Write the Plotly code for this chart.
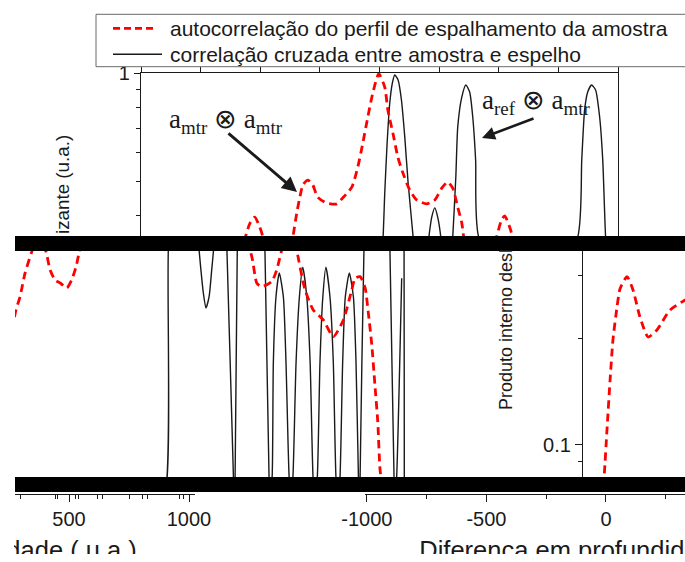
import math
import plotly.graph_objects as go

W, H = 685, 562

# ---------------- data ----------------
# upper window: depth difference (a.u.) vs normalized sliding inner product
top_red_x = [-1344, -1312, -1293, -1273, -1252, -1239, -1210, -1176, -1126, -1113,
             -1097, -1084, -1071, -1050, -1030, -1009, -971, -929, -904, -866,
             -841, -820, -799, -778, -753, -728, -715, -694, -673, -652,
             -623, -594, -552, -518, -489, -464, -443, -422, -405, -397,
             -372, -321, -275, -259, -238, -225, -204, -192, -171]
top_red_y = [0.265, 0.349, 0.382, 0.397, 0.372, 0.349, 0.265, 0.233, 0.301, 0.349,
             0.407, 0.451, 0.488, 0.503, 0.488, 0.451, 0.434, 0.432, 0.449, 0.481,
             0.547, 0.638, 0.754, 0.880, 0.995, 0.914, 0.789, 0.681, 0.583, 0.527,
             0.472, 0.443, 0.432, 0.443, 0.478, 0.497, 0.478, 0.423, 0.382, 0.349,
             0.265, 0.233, 0.301, 0.349, 0.390, 0.400, 0.372, 0.349, 0.265]

top_black_x = [-760, -735, -728, -718, -707, -696, -686, -672, -658, -644,
               -630, -609, -581, -543, -531, -518, -506, -493, -468, -443,
               -430, -422, -405, -388, -372, -359, -347, -334, -120, 81,
               98, 110, 123, 139, 156, 173, 186, 198, 223]
top_black_y = [0.2, 0.349, 0.463, 0.638, 0.825, 0.938, 0.987, 0.956, 0.841, 0.663,
               0.494, 0.349, 0.2, 0.349, 0.397, 0.421, 0.397, 0.349, 0.2, 0.349,
               0.513, 0.707, 0.857, 0.926, 0.885, 0.754, 0.573, 0.349, 0.2, 0.349,
               0.573, 0.789, 0.885, 0.926, 0.897, 0.754, 0.573, 0.349, 0.2]

# lower window
mid_red_x = [-2485, -2469, -2452, -2431, -2403, -2372, -2340, -2326, -2305, -2284,
             -2256, -2236, -2218, -2204, -2180, -1699, -1520, -1482, -1461, -1441,
             -1399, -1378, -1357, -1331, -1305, -1294, -1259, -1225, -1183, -1141,
             -1099, -1064, -1050, -1029, -1008, -995, -980, -967, -955, -946,
             -933, -912, -444, -25, -8, 4, 17, 29, 46, 59,
             88, 113, 142, 176, 213, 268, 331, 351]
mid_red_y = [0.2109, 0.2401, 0.2612, 0.305, 0.350, 0.400, 0.343, 0.311, 0.2916, 0.286,
             0.2769, 0.2916, 0.317, 0.350, 0.400, 0.450, 0.400, 0.339, 0.2855, 0.2792,
             0.2884, 0.311, 0.354, 0.400, 0.395, 0.354, 0.2733, 0.2401, 0.2250, 0.2019,
             0.2250, 0.2733, 0.295, 0.298, 0.2769, 0.2370, 0.1913, 0.1476, 0.1161, 0.0861,
             0.0723, 0.0615, 0.05, 0.0615, 0.0813, 0.1102, 0.1525, 0.1976, 0.2447, 0.276,
             0.298, 0.2733, 0.2295, 0.2015, 0.2109, 0.2401, 0.2562, 0.26]

mid_black_x = [-1908, -1843, -1830, -1803, -1741, -1705, -1702, -1695, -1685, -1674,
               -1661, -1650, -1643, -1640, -1615, -1588, -1586, -1559, -1556, -1552,
               -1543, -1540, -1490, -1429, -1427, -1410, -1406, -1397, -1392, -1381,
               -1367, -1350, -1339, -1326, -1318, -1310, -1297, -1283, -1269, -1252,
               -1238, -1226, -1218, -1208, -1197, -1185, -1172, -1155, -1141, -1130,
               -1121, -1113, -1102, -1091, -1074, -1057, -1046, -1036, -1033, -1029,
               -1013, -1008, -958, -906, -904, -887, -883, -876, -855, None,
               -846, -845, -844, -843]
mid_black_y = [0.0615, 0.0747, 0.378, 0.49, 0.49, 0.378, 0.350, 0.311, 0.268, 0.2432,
               0.2612, 0.311, 0.350, 0.378, 0.49, 0.378, 0.350, 0.0813, 0.070, 0.0813,
               0.350, 0.378, 0.49, 0.378, 0.350, 0.0813, 0.070, 0.0813, 0.1702, 0.2612,
               0.305, 0.2612, 0.1702, 0.0813, 0.070, 0.0813, 0.1702, 0.2612, 0.317, 0.2612,
               0.1702, 0.0813, 0.070, 0.0813, 0.1702, 0.2612, 0.317, 0.2612, 0.1702, 0.0813,
               0.070, 0.0813, 0.1702, 0.2612, 0.305, 0.2612, 0.1702, 0.0813, 0.070, 0.0813,
               0.350, 0.378, 0.49, 0.378, 0.350, 0.0813, 0.070, 0.0813, 0.295, None,
               0.378, 0.350, 0.0813, 0.070]

# ticks
top_x_ticks = [-1750, -1500, -1250, -1000, -750, -500, -250, 0, 250]
top_y_major = [1]
top_y_minor = [0.4, 0.5, 0.6, 0.7, 0.8, 0.9]
mid_y_major = [0.1]
mid_y_minor = [0.09, 0.2, 0.3]
left_x_major = [500, 1000]
left_x_minor = [296, 442, 454, 525, 538, 617, 638, 750, 808, 825, 962, 975]
right_x_major = [-1000, -500, 0]
right_x_labels = ["-1000", "-500", "0"]
right_x_minor = [-750, -250, 250]

# axis titles (cropped at the bottom in the reference)
bottom_titles = ["Profundidade ( u.a.)", "Diferença em profundidade ( u.a.)"]

name_red = "autocorrelação do perfil de espalhamento da amostra"
name_black = "correlação cruzada entre amostra e espelho"

SANS = "Liberation Sans, Arial, sans-serif"
SERIF = "Liberation Serif, Times New Roman, serif"
INK = "#1a1a1a"
RED = "#ff0000"


def px_x(px):
    return px / W


def px_y(py):
    return 1 - py / H


fig = go.Figure()
fig.add_trace(go.Scatter(x=top_black_x, y=top_black_y, xaxis="x", yaxis="y", mode="lines",
                         line=dict(color=INK, width=1.4, shape="spline", smoothing=0.6),
                         name=name_black, showlegend=False, hoverinfo="skip"))
fig.add_trace(go.Scatter(x=top_red_x, y=top_red_y, xaxis="x", yaxis="y", mode="lines",
                         line=dict(color=RED, width=2.8, dash="8px,5px", shape="spline", smoothing=0.6),
                         name=name_red, showlegend=False, hoverinfo="skip"))
fig.add_trace(go.Scatter(x=mid_black_x, y=mid_black_y, xaxis="x2", yaxis="y2", mode="lines",
                         line=dict(color=INK, width=1.4, shape="spline", smoothing=0.6),
                         connectgaps=False, name=name_black, showlegend=False, hoverinfo="skip"))
fig.add_trace(go.Scatter(x=mid_red_x, y=mid_red_y, xaxis="x2", yaxis="y2", mode="lines",
                         line=dict(color=RED, width=2.8, dash="8px,5px", shape="spline", smoothing=0.6),
                         name=name_red, showlegend=False, hoverinfo="skip"))
# carriers for the two bottom axes
fig.add_trace(go.Scatter(x=[], y=[], xaxis="x3", yaxis="y3", showlegend=False))
fig.add_trace(go.Scatter(x=[], y=[], xaxis="x4", yaxis="y3", showlegend=False))
# bottom axis titles, clipped by their own (invisible) strip like in the reference
fig.add_trace(go.Scatter(x=[0.183, 0.604], y=[0.06, 0.06], xaxis="x5", yaxis="y5", mode="text",
                         text=bottom_titles, textposition=["middle left", "middle right"],
                         textfont=dict(family=SANS, size=25.5, color=INK), cliponaxis=True,
                         showlegend=False, hoverinfo="skip"))

axis_common = dict(showgrid=False, zeroline=False, linecolor=INK, tickcolor=INK, automargin=False,
                   tickfont=dict(family=SANS, size=20, color=INK))

fig.update_layout(
    width=W, height=H,
    margin=dict(l=0, r=0, t=0, b=0, pad=0, autoexpand=False),
    paper_bgcolor="white", plot_bgcolor="rgba(0,0,0,0)",
    showlegend=False, hovermode=False,
    xaxis=dict(domain=[px_x(141), px_x(618)], range=[-1750, 250], side="top", anchor="y",
               showline=True, linewidth=1.3, mirror=True, ticks="outside", tickvals=top_x_ticks,
               ticklen=5, tickwidth=1.2, showticklabels=False, **axis_common),
    yaxis=dict(domain=[px_y(244), px_y(73)], type="log", range=[math.log10(0.334), 0], anchor="x",
               showline=True, linewidth=1.3, mirror=True, ticks="outside", tickvals=top_y_major,
               ticktext=["1"], ticklen=6, tickwidth=1.2,
               minor=dict(tickvals=top_y_minor, ticks="outside", ticklen=4, tickcolor=INK, showgrid=False),
               **axis_common),
    xaxis2=dict(domain=[px_x(15), 1], range=[-2473, 330.5], anchor="y2", visible=False),
    yaxis2=dict(domain=[px_y(485), px_y(244)], type="log", range=[-1.1127, -0.4338],
                anchor="free", position=px_x(582), side="left",
                showline=True, linewidth=1.3, ticks="outside", tickvals=mid_y_major, ticktext=["0.1"],
                ticklen=7, tickwidth=1.2,
                minor=dict(tickvals=mid_y_minor, ticks="outside", ticklen=4, tickcolor=INK, showgrid=False),
                **axis_common),
    xaxis3=dict(domain=[px_x(15), px_x(195)], range=[275, 1025], anchor="y3",
                showline=True, linewidth=1.3, ticks="outside", tickvals=left_x_major,
                ticktext=[str(v) for v in left_x_major], ticklen=7, tickwidth=1.2,
                minor=dict(tickvals=left_x_minor, ticks="outside", ticklen=4, tickcolor=INK, showgrid=False),
                **axis_common),
    xaxis4=dict(domain=[px_x(365), 1], range=[-1008, 330.5], anchor="y3",
                showline=True, linewidth=1.3, ticks="outside", tickvals=right_x_major,
                ticktext=right_x_labels, ticklen=7, tickwidth=1.2,
                minor=dict(tickvals=right_x_minor, ticks="outside", ticklen=4, tickcolor=INK, showgrid=False),
                **axis_common),
    yaxis3=dict(domain=[px_y(494), px_y(490)], anchor="x3", visible=False),
    xaxis5=dict(domain=[px_x(14), 1], range=[0, 1], anchor="y5", visible=False),
    yaxis5=dict(domain=[px_y(554), px_y(532)], range=[0, 1], anchor="x5", visible=False),
)

shapes = [
    # thick black bands
    dict(type="rect", xref="paper", yref="paper", x0=px_x(15), x1=1.02, y0=px_y(251), y1=px_y(236),
         fillcolor="black", line=dict(width=0), layer="above"),
    dict(type="rect", xref="paper", yref="paper", x0=px_x(15), x1=1.02, y0=px_y(492), y1=px_y(477),
         fillcolor="black", line=dict(width=0), layer="above"),
    # legend frame and samples
    dict(type="rect", xref="paper", yref="paper", x0=px_x(96), x1=px_x(700), y0=px_y(66.7), y1=px_y(14.3),
         fillcolor="white", line=dict(color="#6a6a6a", width=1), layer="above"),
    dict(type="line", xref="paper", yref="paper", x0=px_x(113), x1=px_x(157), y0=px_y(28.3), y1=px_y(28.3),
         line=dict(color=RED, width=2.8, dash="7px,4px"), layer="above"),
    dict(type="line", xref="paper", yref="paper", x0=px_x(113), x1=px_x(162), y0=px_y(54.3), y1=px_y(54.3),
         line=dict(color=INK, width=1.4), layer="above"),
]

annotations = [
    dict(text=name_red, x=px_x(168), y=px_y(28.3), xanchor="left", yanchor="middle",
         font=dict(family=SANS, size=21, color=INK)),
    dict(text=name_black, x=px_x(168), y=px_y(54.3), xanchor="left", yanchor="middle",
         font=dict(family=SANS, size=21, color=INK)),
    dict(text="a<sub>mtr</sub> ⊗ a<sub>mtr</sub>", x=px_x(226), y=px_y(121), xanchor="center", yanchor="middle",
         font=dict(family=SERIF, size=27, color=INK)),
    dict(text="a<sub>ref</sub> ⊗ a<sub>mtr</sub>", x=px_x(536), y=px_y(102), xanchor="center", yanchor="middle",
         font=dict(family=SERIF, size=27, color=INK)),
    # arrows: tip at (x, y), tail offset in pixels
    dict(text="", x=px_x(297), y=px_y(192), ax=-70, ay=-60, axref="pixel", ayref="pixel",
         showarrow=True, arrowhead=2, arrowsize=1, arrowwidth=3, arrowcolor=INK),
    dict(text="", x=px_x(482), y=px_y(138), ax=53, ay=-20, axref="pixel", ayref="pixel",
         showarrow=True, arrowhead=2, arrowsize=1, arrowwidth=2.6, arrowcolor=INK),
    dict(text="izante (u.a.)", x=px_x(62), y=px_y(185), textangle=-90, xanchor="center", yanchor="middle",
         font=dict(family=SANS, size=18.8, color=INK)),
    dict(text="Produto interno desl", x=px_x(506), y=px_y(330), textangle=-90, xanchor="center", yanchor="middle",
         font=dict(family=SANS, size=18, color=INK)),
]
for a in annotations:
    a.setdefault("xref", "paper")
    a.setdefault("yref", "paper")
    a.setdefault("showarrow", False)

fig.update_layout(shapes=shapes, annotations=annotations)
fig.write_html("out.html", config={"displayModeBar": False},
               post_script="document.body.style.margin='0';document.body.style.overflow='hidden';")
